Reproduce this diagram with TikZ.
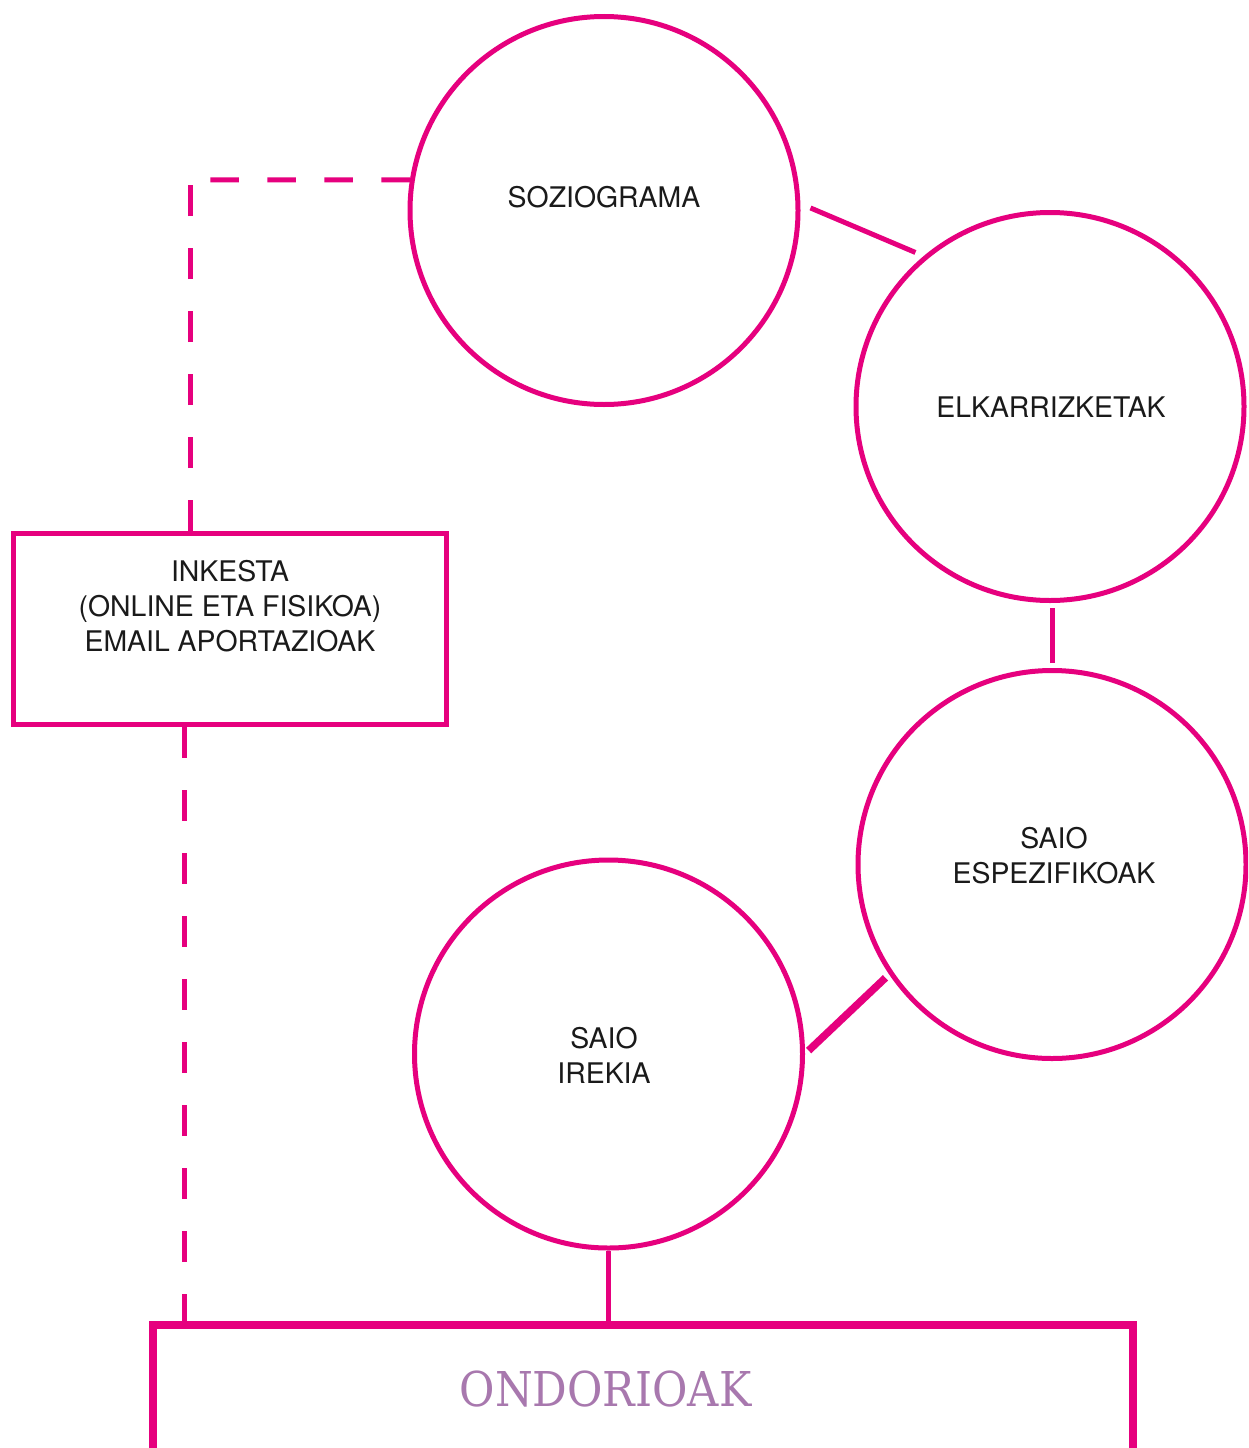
\documentclass[tikz,border=0pt]{standalone}
\usepackage{fontspec}
\setmainfont{TeX Gyre Heros}
\newfontfamily\slabfont{DejaVu Serif Condensed}
\definecolor{mag}{HTML}{E6007E}
\definecolor{ondocol}{HTML}{A878AE}
\definecolor{txt}{HTML}{1A1A1A}
\begin{document}
\begin{tikzpicture}[x=1pt,y=-1pt,
  circ/.style={circle,draw=mag,line width=5pt,minimum size=388pt,inner sep=0pt},
  boxst/.style={rectangle,draw=mag,inner sep=0pt},
  lbl/.style={font=\fontsize{28.4}{35}\selectfont,text=txt,align=center,inner sep=0pt},
  link/.style={draw=mag,line width=5pt},
  dlink/.style={draw=mag,line width=5pt,dash pattern=on 31pt off 32pt},
  hdlink/.style={draw=mag,line width=5pt,dash pattern=on 28.5pt off 28.5pt}]
\useasboundingbox (0,0) rectangle (1248,1448);
\clip (0,0) rectangle (1248,1448);
\fill[white] (0,0) rectangle (1248,1448);

% circles
\node[circ] (sozio) at (604,210.5) {};
\node[circ] (elkar) at (1050,406.5) {};
\node[circ] (espez) at (1052,864.5) {};
\node[circ] (irekia) at (608.5,1054) {};

% boxes
\node[boxst,line width=5pt,minimum width=433pt,minimum height=191pt] (inkesta) at (230,629) {};
\node[boxst,line width=8pt,minimum width=980pt,minimum height=155pt] (ondo) at (643.25,1402.5) {};

% texts
\node[lbl] (t1) at (604,197) {SOZIOGRAMA};
\node[lbl] (t2) at (1051,407.5) {ELKARRIZKETAK};
\node[lbl] (t3) at (1054,856) {SAIO\\ESPEZIFIKOAK};
\node[lbl] (t4) at (604,1055) {SAIO\\IREKIA};
\node[lbl] (t5) at (230,606) {INKESTA\\(ONLINE ETA FISIKOA)\\EMAIL APORTAZIOAK};
\node[font=\slabfont\fontsize{48}{48}\selectfont,text=ondocol,inner sep=0pt] (t6) at (605.5,1389.5) {ONDORIOAK};

% connectors
\coordinate (c1) at (190,180);
\coordinate (c2) at (184,0);
\draw[link,shorten <=11pt,shorten >=9pt] (sozio.2) -- (elkar.130);
\draw[link,shorten <=5pt,shorten >=5pt] (espez.north) -- (espez.north |- elkar.south);
\draw[draw=mag,line width=7.5pt,shorten <=5pt,shorten >=5pt] (irekia.0) -- (espez.214);
\draw[link] (irekia.south) -- (irekia.south |- ondo.north);
\draw[dlink] (c1 |- inkesta.north) -- (c1);
\draw[hdlink] (sozio.171) -- (c1);
\draw[dlink] (c2 |- inkesta.south) -- (c2 |- ondo.north);
\end{tikzpicture}
\end{document}
